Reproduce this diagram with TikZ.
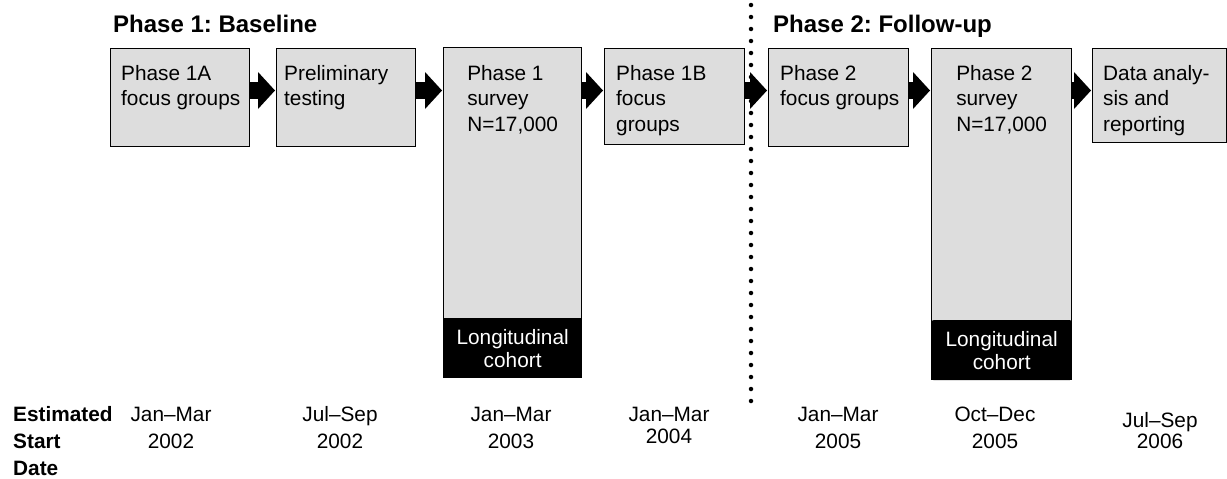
\documentclass[tikz,border=0pt]{standalone}
\usepackage{fontspec}
\setmainfont{Liberation Sans}
\usepackage{tikz}
\usetikzlibrary{arrows.meta}
\usetikzlibrary{calc}
\usetikzlibrary{positioning}

\definecolor{grisCaja}{RGB}{221,221,221}

\begin{document}
\begin{tikzpicture}[
        x=1pt, y=-1pt, % Unidades de un punto, eje y hacia abajo
        caja/.style 2 args={draw, fill=grisCaja, line width=1.3pt, anchor=north west,
            minimum width=#1, minimum height=#2, inner sep=0pt}, % Cajas grises
        texto/.style={font=\fontsize{20.8}{25.5}\selectfont, align=left, inner sep=0pt}, % Texto de las cajas
        banda/.style={fill=black, text=white, minimum width=#1, minimum height=60pt,
            font=\fontsize{20.8}{23}\selectfont, align=center, inner sep=0pt, anchor=south}, % Cohorte
        titulo/.style={font=\fontsize{24}{28}\selectfont\bfseries\frenchspacing, inner sep=0pt, anchor=base west},
        fecha/.style={font=\fontsize{20.8}{27}\selectfont, align=center, inner sep=0pt, anchor=north},
        flecha/.style={line width=17pt, -{Triangle[length=17pt, width=37pt, line width=0pt]}, shorten >=1pt},
        separador/.style={line width=4.5pt, line cap=round, dash pattern=on 0pt off 12pt} % Línea de puntos
    ]
        \useasboundingbox (0,0) rectangle (1227,479);

        % --- Títulos de las fases ---
        \node[titulo] (tit1) at (113,32) {Phase 1: Baseline};
        \node[titulo] (tit2) at (773,32) {Phase 2: Follow-up};

        % --- Cajas de la línea de tiempo ---
        \node[caja={139pt}{98pt}] (p1a) at (110,48) {};
        \node[caja={139pt}{98pt}] (pre) at (276,48) {};
        \node[caja={138pt}{330pt}] (s1) at (443,47) {};
        \node[caja={140pt}{96pt}] (p1b) at (604,48) {};
        \node[caja={140pt}{98pt}] (p2) at (768,48) {};
        \node[caja={140pt}{331pt}] (s2) at (931,48) {};
        \node[caja={134pt}{94pt}] (dat) at (1092,48) {};

        % Bandas negras de la cohorte longitudinal
        \node[banda=138pt] (coh1) at (s1.south) {Longitudinal\\cohort};
        \node[banda=140pt, rounded corners=2pt] (coh2) at (s2.south) {Longitudinal\\cohort};

        % --- Textos dentro de las cajas ---
        \node[texto, anchor=north west] (tp1a) at ($(p1a.north west)+(11,17)$) {Phase 1A\\focus groups};
        \node[texto, anchor=north west] (tpre) at ($(pre.north west)+(8,17)$) {Preliminary\\testing};
        \node[texto, anchor=north] (ts1) at ($(s1.north)+(0,18)$) {Phase 1\\survey\\N=17,000};
        \node[texto, anchor=north west] (tp1b) at ($(p1b.north west)+(12,17)$) {Phase 1B\\focus\\groups};
        \node[texto, anchor=north west] (tp2) at ($(p2.north west)+(12,17)$) {Phase 2\\focus groups};
        \node[texto, anchor=north] (ts2) at ($(s2.north)+(0,17)$) {Phase 2\\survey\\N=17,000};
        \node[texto, anchor=north west] (tdat) at ($(dat.north west)+(11,17)$) {Data analy-\\sis and\\reporting};

        % --- Flechas entre las cajas ---
        \coordinate (nivel) at (0,90.5); % Altura de las flechas
        \draw[flecha] (p1a.east |- nivel) -- (pre.west |- nivel);
        \draw[flecha] (pre.east |- nivel) -- (s1.west |- nivel);
        \draw[flecha] (s1.east |- nivel) -- (p1b.west |- nivel);
        \draw[flecha] (p1b.east |- nivel) -- (p2.west |- nivel);
        \draw[flecha] (p2.east |- nivel) -- (s2.west |- nivel);
        \draw[flecha] (s2.east |- nivel) -- (dat.west |- nivel);

        % --- Separación entre las dos fases ---
        \coordinate (sepA) at (751,5);
        \coordinate (sepB) at (751,405);
        \draw[separador] (sepA) -- (sepB);

        % --- Fechas estimadas de inicio ---
        \node[font=\fontsize{20.8}{27}\selectfont\bfseries, align=left, inner sep=0pt, anchor=north west]
            (est) at (13,406) {\vphantom{Jl}Estimated\\Start\\Date};
        \node[fecha] (f1) at (171,406) {\vphantom{Jl}Jan–Mar\\2002};
        \node[fecha] (f2) at (340,406) {\vphantom{Jl}Jul–Sep\\2002};
        \node[fecha] (f3) at (511,406) {\vphantom{Jl}Jan–Mar\\2003};
        \node[fecha, font=\fontsize{20.8}{22}\selectfont] (f4) at (669,406) {\vphantom{Jl}Jan–Mar\\2004};
        \node[fecha] (f5) at (838,406) {\vphantom{Jl}Jan–Mar\\2005};
        \node[fecha] (f6) at (995,406) {\vphantom{Jl}Oct–Dec\\2005};
        \node[fecha, font=\fontsize{20.8}{21}\selectfont] (f7) at (1160,412) {\vphantom{Jl}Jul–Sep\\2006};
\end{tikzpicture}
\end{document}
